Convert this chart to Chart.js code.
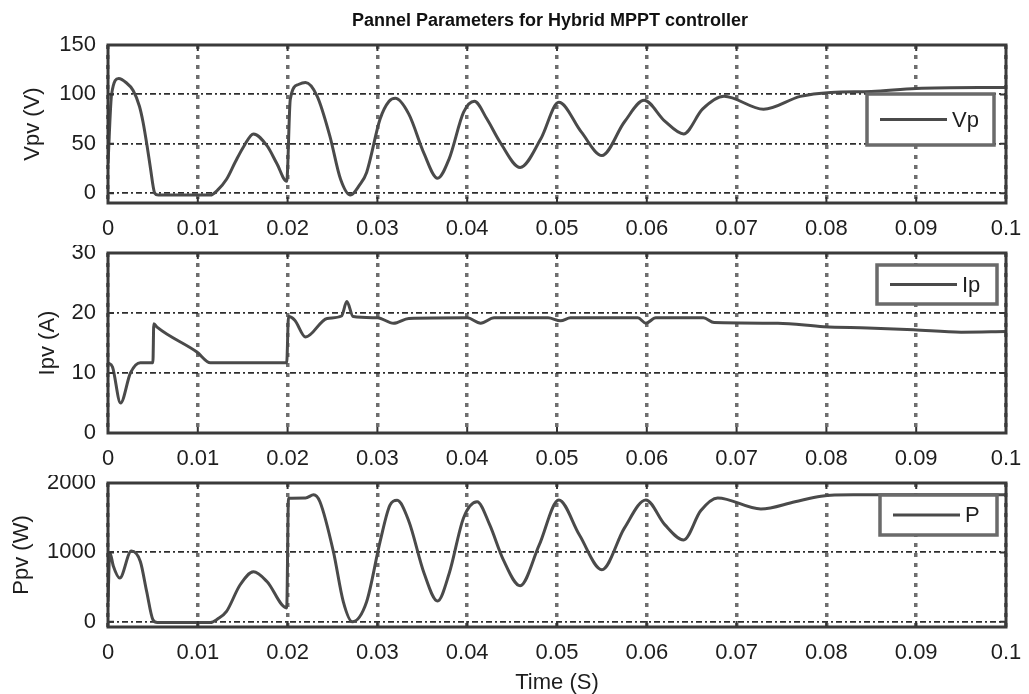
<!DOCTYPE html>
<html>
<head>
<meta charset="utf-8">
<script src="https://cdn.jsdelivr.net/npm/chart.js@4.4.1/dist/chart.umd.min.js"></script>
<style>
  html, body { margin: 0; padding: 0; background: #fff; }
  .panel { position: absolute; left: 0; width: 1029px; }
</style>
</head>
<body>
<div class="panel" style="top:0;height:245px"><canvas id="vChart"></canvas></div>
<div class="panel" style="top:245px;height:230px"><canvas id="iChart"></canvas></div>
<div class="panel" style="top:475px;height:219px"><canvas id="pChart"></canvas></div>
<script>
const chartTitle = "Pannel Parameters for Hybrid MPPT controller";
const xTitle = "Time (S)";
const xTicks = [0, 0.01, 0.02, 0.03, 0.04, 0.05, 0.06, 0.07, 0.08, 0.09, 0.1];
const xTickLabels = ["0", "0.01", "0.02", "0.03", "0.04", "0.05", "0.06", "0.07", "0.08", "0.09", "0.1"];

// panel voltage
const vTime = [0, 0.0004, 0.0012, 0.002, 0.0028, 0.0035, 0.0039, 0.0044, 0.0047, 0.0052, 0.0056, 0.0114, 0.0122,
  0.0132, 0.0142, 0.0151, 0.0162, 0.0177, 0.0188, 0.0199, 0.0203, 0.0212, 0.022, 0.0233, 0.0247, 0.0259, 0.027,
  0.028, 0.0288, 0.0303, 0.0313, 0.032, 0.0335, 0.0352, 0.0367, 0.038, 0.0396, 0.0408, 0.0422, 0.0437, 0.0459,
  0.0482, 0.0502, 0.0527, 0.055, 0.0575, 0.0597, 0.062, 0.0641, 0.0662, 0.0686, 0.073, 0.0771, 0.0805, 0.085,
  0.09, 0.1];
const vValues = [30, 100, 116, 112, 104, 88, 72, 45, 27, 0, -2, -2, 3,
  14, 32, 47, 60, 48, 30, 12, 95, 110, 112, 98, 58, 14, -2,
  8, 21, 75, 93, 96, 80, 40, 15, 35, 82, 93, 75, 51, 26,
  55, 92, 62, 38, 72, 94, 73, 60, 85, 98, 85, 98, 102, 103,
  106, 107];
const vTicks = [0, 50, 100, 150];
const vTickLabels = ["0", "50", "100", "150"];

// panel current
const iTime = [0, 0.0005, 0.0014, 0.0025, 0.0036, 0.005, 0.0051, 0.0055, 0.0099, 0.0114, 0.0199, 0.0201, 0.0208,
  0.022, 0.0244, 0.026, 0.0266, 0.0273, 0.03, 0.0318, 0.0335, 0.04, 0.0415, 0.043, 0.049, 0.0504, 0.0515, 0.059,
  0.0599, 0.061, 0.0663, 0.0675, 0.0746, 0.0797, 0.0846, 0.0897, 0.095, 0.1];
const iValues = [11.7, 11, 5, 10, 11.7, 11.7, 18.2, 17.6, 13.5, 11.7, 11.7, 19.4, 18.8,
  16, 19.1, 19.5, 21.9, 19.4, 19.2, 18.3, 19.1, 19.2, 18.3, 19.2, 19.2, 18.7, 19.2, 19.2,
  18.3, 19.2, 19.2, 18.4, 18.3, 17.7, 17.5, 17.2, 16.8, 16.9];
const iTicks = [0, 10, 20, 30];
const iTickLabels = ["0", "10", "20", "30"];

// panel power
const pTime = [0, 0.0002, 0.0006, 0.0013, 0.0026, 0.0036, 0.0043, 0.005, 0.0055, 0.0114, 0.0122, 0.0132, 0.0147,
  0.0162, 0.0177, 0.0199, 0.0201, 0.022, 0.0229, 0.0236, 0.0251, 0.0262, 0.0272, 0.0288, 0.0303, 0.0314, 0.0322,
  0.0335, 0.0352, 0.0367, 0.038, 0.0396, 0.0411, 0.0425, 0.044, 0.0459, 0.048, 0.0502, 0.0525, 0.055, 0.0575,
  0.0599, 0.062, 0.0641, 0.066, 0.0679, 0.0727, 0.0765, 0.0794, 0.083, 0.1];
const pValues = [290, 1000, 800, 630, 1020, 870, 440, 30, -10, -10, 40, 150, 530,
  720, 580, 200, 1780, 1785, 1830, 1730, 1010, 290, 0, 290, 1155, 1680, 1750,
  1450, 700, 300, 700, 1500, 1730, 1400, 900, 520, 1100, 1755, 1250, 750, 1350,
  1755, 1400, 1180, 1600, 1785, 1625, 1730, 1810, 1830, 1830];
const pTicks = [0, 1000, 2000];
const pTickLabels = ["0", "1000", "2000"];

const textColor = "#1e1e1e";
const fontFamily = "'Liberation Sans', Arial, sans-serif";

const panelFrame = {
  id: "panelFrame",
  afterDraw(chart, args, opts) {
    const { ctx, chartArea: a, scales } = chart;
    ctx.save();
    ctx.setLineDash([]);
    ctx.strokeStyle = "#333";
    ctx.lineWidth = 2;
    ctx.beginPath();
    scales.x.ticks.forEach((t) => {
      const px = scales.x.getPixelForValue(t.value);
      ctx.moveTo(px, a.bottom); ctx.lineTo(px, a.bottom - 6);
      ctx.moveTo(px, a.top); ctx.lineTo(px, a.top + 6);
    });
    scales.y.ticks.forEach((t) => {
      const py = scales.y.getPixelForValue(t.value);
      ctx.moveTo(a.left, py); ctx.lineTo(a.left + 6, py);
      ctx.moveTo(a.right, py); ctx.lineTo(a.right - 6, py);
    });
    ctx.stroke();

    ctx.lineWidth = 3;
    ctx.strokeStyle = "#3a3a3a";
    ctx.strokeRect(a.left, a.top, a.width, a.height);

    const lg = opts.legend;
    if (lg) {
      const ds = chart.data.datasets[0];
      ctx.fillStyle = "#fff";
      ctx.fillRect(lg.left, lg.top, lg.width, lg.height);
      ctx.lineWidth = 3.5;
      ctx.strokeStyle = "#6a6a6a";
      ctx.strokeRect(lg.left, lg.top, lg.width, lg.height);
      const cy = lg.top + lg.height / 2;
      ctx.strokeStyle = ds.borderColor;
      ctx.lineWidth = 3;
      ctx.beginPath();
      ctx.moveTo(lg.left + 13, cy);
      ctx.lineTo(lg.left + 80, cy);
      ctx.stroke();
      ctx.fillStyle = textColor;
      ctx.font = "22px " + fontFamily;
      ctx.textAlign = "left";
      ctx.textBaseline = "middle";
      ctx.fillText(ds.label, lg.left + 85, cy + 1);
    }

    if (opts.title) {
      ctx.fillStyle = "#111";
      ctx.font = "bold 18px " + fontFamily;
      ctx.textAlign = "center";
      ctx.textBaseline = "middle";
      ctx.fillText(opts.title, 550, 21);
    }
    ctx.restore();
  }
};

function makeChart(id, cfg) {
  const data = cfg.time.map((t, k) => ({ x: t, y: cfg.values[k] }));
  return new Chart(document.getElementById(id), {
    type: "line",
    data: {
      datasets: [{
        label: cfg.label,
        data,
        borderColor: "#4a4a4a",
        borderWidth: 3,
        pointRadius: 0,
        fill: false,
        cubicInterpolationMode: "monotone",
      }],
    },
    options: {
      responsive: true,
      maintainAspectRatio: false,
      animation: false,
      events: [],
      layout: { padding: { top: cfg.padTop, right: 23, left: 0, bottom: 0 } },
      plugins: {
        legend: { display: false },
        tooltip: { enabled: false },
        panelFrame: { legend: cfg.legend, title: cfg.title },
      },
      scales: {
        x: {
          type: "linear",
          min: 0,
          max: 0.1,
          afterBuildTicks: (s) => { s.ticks = xTicks.map((v) => ({ value: v })); },
          afterFit: (s) => { s.height = cfg.xHeight; s.paddingLeft = 0; s.paddingRight = 0; },
          ticks: {
            autoSkip: false,
            maxRotation: 0,
            padding: 13,
            color: textColor,
            font: { family: fontFamily, size: 22 },
            callback: (v, i) => xTickLabels[i],
          },
          grid: { color: "#6e6e6e", lineWidth: 3.5, drawTicks: false },
          border: { display: false, dash: [4, 6] },
          title: {
            display: !!cfg.xTitle,
            text: cfg.xTitle || "",
            color: textColor,
            font: { family: fontFamily, size: 22, lineHeight: 1 },
            padding: { top: 0, bottom: 0 },
          },
        },
        y: {
          min: cfg.min,
          max: cfg.max,
          afterBuildTicks: (s) => { s.ticks = cfg.ticks.map((v) => ({ value: v })); },
          afterFit: (s) => { s.width = 108; s.paddingTop = 0; s.paddingBottom = 0; },
          ticks: {
            padding: 12,
            color: textColor,
            font: { family: fontFamily, size: 22 },
            callback: (v, i) => cfg.tickLabels[i],
          },
          grid: { color: "#2e2e2e", lineWidth: 1.8, drawTicks: false },
          border: { display: false, dash: [6, 3, 2, 3] },
          title: {
            display: true,
            text: cfg.yTitle,
            color: textColor,
            font: { family: fontFamily, size: 22 },
            padding: { top: cfg.yTitlePad, bottom: 0 },
          },
        },
      },
    },
    plugins: [panelFrame],
  });
}

makeChart("vChart", {
  label: "Vp", time: vTime, values: vValues, min: -10, max: 150, ticks: vTicks, tickLabels: vTickLabels,
  yTitle: "Vpv (V)", yTitlePad: 20, padTop: 45, xHeight: 42, title: chartTitle,
  legend: { left: 867, top: 94, width: 127, height: 51 },
});
makeChart("iChart", {
  label: "Ip", time: iTime, values: iValues, min: 0, max: 30, ticks: iTicks, tickLabels: iTickLabels,
  yTitle: "Ipv (A)", yTitlePad: 35, padTop: 8, xHeight: 42,
  legend: { left: 877, top: 20, width: 120, height: 39 },
});
makeChart("pChart", {
  label: "P", time: pTime, values: pValues, min: -75, max: 2000, ticks: pTicks, tickLabels: pTickLabels,
  yTitle: "Ppv (W)", yTitlePad: 9, padTop: 8, xHeight: 67, xTitle: xTitle,
  legend: { left: 880, top: 20, width: 117, height: 40 },
});
</script>
</body>
</html>
